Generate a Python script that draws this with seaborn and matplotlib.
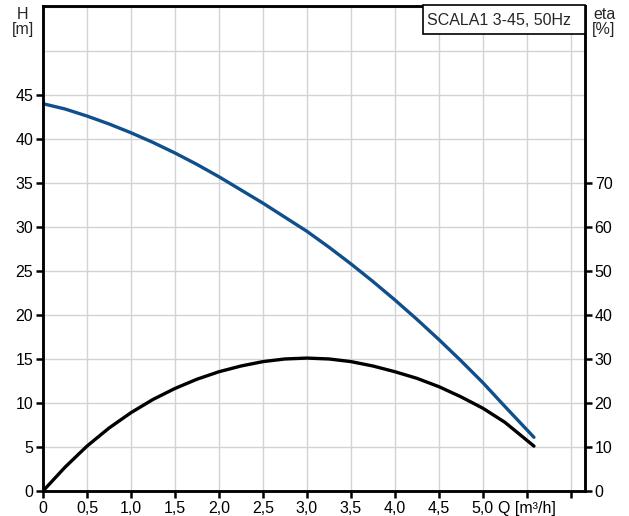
import matplotlib.pyplot as plt
import numpy as np
import pandas as pd
import seaborn as sns
from matplotlib.patches import Rectangle

sns.set_style("ticks")
plt.rcParams['font.family'] = ['Liberation Sans', 'DejaVu Sans']

# Pump curve data
q_values = [0.0, 0.25, 0.5, 0.75, 1.0, 1.25, 1.5, 1.75, 2.0, 2.25, 2.5, 2.75, 3.0,
            3.25, 3.5, 3.75, 4.0, 4.25, 4.5, 4.75, 5.0, 5.25, 5.58]
h_values = [44.0, 43.4, 42.6, 41.7, 40.7, 39.6, 38.4, 37.1, 35.7, 34.2, 32.7, 31.1, 29.5,
            27.7, 25.8, 23.8, 21.7, 19.5, 17.2, 14.8, 12.3, 9.6, 6.1]
eta_values = [0.0, 5.4, 10.2, 14.3, 17.8, 20.8, 23.3, 25.4, 27.1, 28.4, 29.4, 30.0, 30.2,
              30.0, 29.4, 28.4, 27.1, 25.6, 23.7, 21.4, 18.8, 15.6, 10.2]

x_ticks = [0, 0.5, 1.0, 1.5, 2.0, 2.5, 3.0, 3.5, 4.0, 4.5, 5.0, 5.5, 6.0]
x_labels = ['0', '0,5', '1,0', '1,5', '2,0', '2,5', '3,0', '3,5', '4,0', '4,5', '5,0', 'Q [m³/h]', '']
h_ticks = [0, 5, 10, 15, 20, 25, 30, 35, 40, 45]
eta_ticks = [0, 10, 20, 30, 40, 50, 60, 70]
title_text = "SCALA1 3-45, 50Hz"

df = pd.DataFrame({'Q': q_values, 'H': h_values, 'eta': eta_values})

fig = plt.figure(figsize=(6.29, 5.16), dpi=100)
ax = fig.add_axes([43 / 629, 25 / 516, 542 / 629, 485 / 516])
ax2 = ax.twinx()

ax.set_xlim(0, 6.16)
ax.set_ylim(0, 55.1)
ax.grid(True, color='#d3d3d3', lw=1.0)
ax.set_axisbelow(True)

sns.lineplot(x='Q', y='H', data=df, ax=ax, color='#0f4f8c', lw=2.4)
sns.lineplot(x='Q', y='eta', data=df, ax=ax2, color='black', lw=2.4)

ax2.set_ylim(0, 110.2)
ax2.set_yticks(eta_ticks)
ax2.set_yticklabels([str(t) for t in eta_ticks])

ax.set_xticks(x_ticks)
ax.set_xticklabels(x_labels)
grid_y = list(range(0, 56, 5))
ax.set_yticks(grid_y)
ax.set_yticklabels([str(t) if t in h_ticks else '' for t in grid_y])
# no tick marks above 45
for tick, val in zip(ax.yaxis.get_major_ticks(), grid_y):
    if val > 45:
        tick.tick1line.set_visible(False)

ax.set_xlabel('')
ax.set_ylabel('')
ax2.set_ylabel('')

for a in (ax, ax2):
    a.tick_params(labelsize=11.5, width=1.8, length=5, colors='black', pad=2)
    for s in a.spines.values():
        s.set_linewidth(1.8)
        s.set_color('black')

fig.text(23 / 629, 1 - 22 / 516, "H\n[m]", ha='center', va='center', fontsize=11.5, linespacing=0.95)
fig.text(604 / 629, 1 - 22 / 516, "eta\n[%]", ha='center', va='center', fontsize=11.5, linespacing=0.95)

# title box in the top right corner
ax2.add_patch(Rectangle((0.701, 0.942), 0.299, 0.06, transform=ax.transAxes, fc='white',
                        ec='black', lw=1.2, zorder=5, clip_on=False))
ax2.text(0.709, 0.971, title_text, transform=ax.transAxes, ha='left', va='center',
         fontsize=11.5, zorder=6)

plt.savefig('out.png', dpi=100)
